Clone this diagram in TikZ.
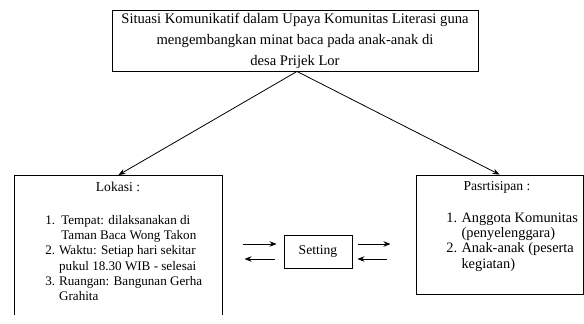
\documentclass[tikz,border=0pt]{standalone}
\usepackage{fontspec}
\setmainfont{Liberation Serif}
\usetikzlibrary{arrows.meta}

\begin{document}
\begin{tikzpicture}[x=1pt, y=-1pt, >={Stealth[length=7pt,width=5.5pt]}, line width=0.8pt]
    \useasboundingbox (0,0) rectangle (584,324);
    \tikzset{box/.style={draw, line width=0.9pt, inner sep=0pt},
             boxtext/.style={inner sep=0pt, font=\fontsize{13.6}{15.3}\selectfont}}

    % Top box
    \node[box, minimum width=366pt, minimum height=61pt, align=center,
          font=\fontsize{14.6}{21}\selectfont] (situasi) at (295,40.5)
        {Situasi Komunikatif dalam Upaya Komunitas Literasi guna\\
         mengembangkan minat baca pada anak-anak di\\
         desa Prijek Lor};

    % Left box (bottom edge cut off)
    \node[minimum width=207pt, minimum height=139pt, inner sep=0pt, anchor=north] (lokasi) at (118.5,175) {};
    \draw[line width=0.9pt] (lokasi.south west) |- (lokasi.north east) -- (lokasi.south east);
    \node[boxtext] (lokasititle) at (118,187) {Lokasi :};
    \node[inner sep=0pt, anchor=north west, font=\fontsize{13.1}{15.3}\selectfont] (lokasilist) at (45,213)
        {\begin{tabular}{@{}l@{\hspace{0.3em}}l@{}}
         1. & \,Tempat: dilaksanakan di\\
            & \,Taman Baca Wong Takon\\
         2. & Waktu: Setiap hari sekitar\\
            & pukul 18.30 WIB - selesai\\
         3. & Ruangan: Bangunan Gerha\\
            & Grahita
         \end{tabular}};

    % Right box
    \node[box, minimum width=167pt, minimum height=119pt] (partisipan) at (499.5,234.5) {};
    \node[boxtext] (partisipantitle) at (497,187) {Pasrtisipan :};
    \node[inner sep=0pt, anchor=north west, font=\fontsize{14.4}{15.3}\selectfont] (partisipanlist) at (446,211)
        {\begin{tabular}{@{}l@{\hspace{0.3em}}l@{}}
         1. & Anggota Komunitas\\
            & (penyelenggara)\\
         2. & Anak-anak (peserta\\
            & kegiatan)
         \end{tabular}};

    % Setting
    \node[box, minimum width=68pt, minimum height=33pt, font=\fontsize{13.6}{15}\selectfont] (setting) at (318,251.5) {Setting};

    % Connectors
    \draw[->] ([xshift=2pt]situasi.south) -- (lokasi.north);
    \draw[->] ([xshift=2pt]situasi.south) -- (partisipan.north);

    \draw[->] ([xshift=-41pt, yshift=7.5pt]setting.west) -- ([xshift=-7pt, yshift=7.5pt]setting.west);
    \draw[->] ([xshift=-9pt, yshift=-7.5pt]setting.west) -- ([xshift=-39pt, yshift=-7.5pt]setting.west);
    \draw[->] ([xshift=6pt, yshift=7.5pt]setting.east) -- ([xshift=38pt, yshift=7.5pt]setting.east);
    \draw[->] ([xshift=35pt, yshift=-7.5pt]setting.east) -- ([xshift=5pt, yshift=-7.5pt]setting.east);
\end{tikzpicture}
\end{document}
